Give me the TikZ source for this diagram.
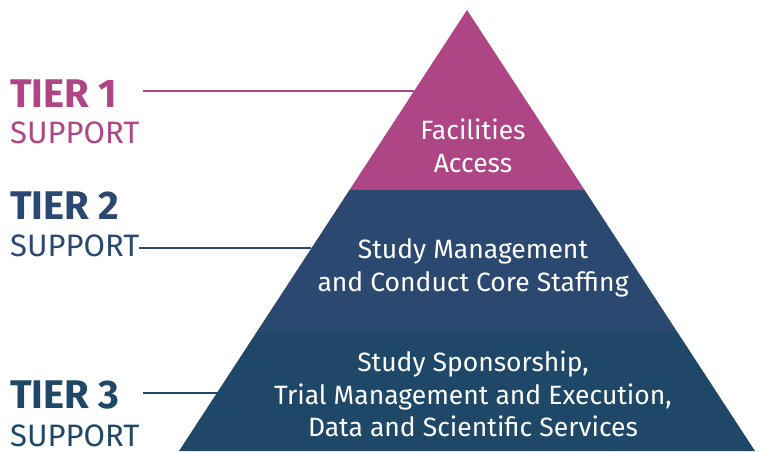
\documentclass[tikz,border=0pt]{standalone}
\usepackage{fontspec}
\setmainfont{Fira Sans}
\usetikzlibrary{calc}
\definecolor{tierpink}{HTML}{AE4585}
\definecolor{tiermid}{HTML}{2B4970}
\definecolor{tierdeep}{HTML}{1F4868}

\begin{document}
\begin{tikzpicture}[
    x=1pt, y=-1pt,
    tiername/.style={font=\fontsize{40}{42}\selectfont\bfseries, anchor=base west, inner sep=0pt},
    tiersub/.style={font=\fontsize{31}{34}\selectfont, anchor=base west, inner sep=0pt},
    leveltext/.style={text=white, align=center, font=\fontsize{26.5}{32.5}\selectfont},
    pointer/.style={line width=1.6pt},
    ]
    \useasboundingbox (0,0) rectangle (765,452);
    \coordinate (apex) at (467,10);
    \coordinate (bl) at (179,451);
    \coordinate (br) at (755,451);
    \coordinate (l1) at ($(apex)!0.408!(bl)$);
    \coordinate (r1) at ($(apex)!0.408!(br)$);
    \coordinate (l2) at ($(apex)!0.732!(bl)$);
    \coordinate (r2) at ($(apex)!0.732!(br)$);
    \fill[tierpink] (apex) -- (r1) -- (l1) -- cycle;
    \fill[tiermid] (l1) -- (r1) -- (r2) -- (l2) -- cycle;
    \fill[tierdeep] (l2) -- (r2) -- (br) -- (bl) -- cycle;

    \node[leveltext] (facilities) at (473,146) {Facilities\\Access};
    \node[leveltext] (staffing) at (473,268) {Study Management\\and Conduct Core Staffing};
    \node[leveltext] (services) at (473,394) {Study Sponsorship,\\Trial Management and Execution,\\Data and Scientific Services};

    \node[tiername, text=tierpink] (tier1) at (10,107) {TIER 1};
    \node[tiersub, text=tierpink] (support1) at (10,143) {SUPPORT};
    \node[tiername, text=tiermid] (tier2) at (10,219) {TIER 2};
    \node[tiersub, text=tiermid] (support2) at (10,256) {SUPPORT};
    \node[tiername, text=tierdeep] (tier3) at (10,408) {TIER 3};
    \node[tiersub, text=tierdeep] (support3) at (10,446) {SUPPORT};

    \coordinate (edge1) at ($(apex)!0.184!(bl)$);
    \coordinate (edge2) at ($(apex)!0.540!(bl)$);
    \coordinate (edge3) at ($(apex)!0.868!(bl)$);
    \draw[pointer, tierpink] (143,0 |- edge1) -- (edge1);
    \draw[pointer, tiermid] (support2.east |- edge2) -- (edge2);
    \draw[pointer, tierdeep] (143,0 |- edge3) -- (edge3);
\end{tikzpicture}
\end{document}
